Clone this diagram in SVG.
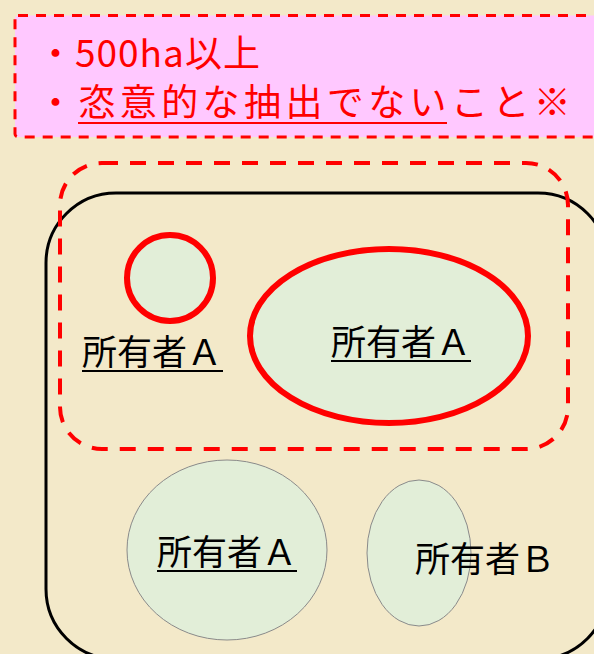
<svg xmlns="http://www.w3.org/2000/svg" width="594" height="654" viewBox="0 0 594 654">
<style>
.jp{font-family:"Noto Sans CJK JP","Noto Sans",sans-serif}
.red{fill:#ff0000}
.lbl{font-size:35px;fill:#000}
.redring{fill:#e2eed8;stroke:#ff0000;stroke-width:6}
.plain{fill:#e2eed8;stroke:#8a8a8a;stroke-width:1}
.ul{stroke:#000;stroke-width:2}
</style>
<rect x="0" y="0" width="594" height="654" fill="#f3e9c9"/>
<g id="criteria">
<rect x="15" y="15.5" width="600" height="121.5" rx="3" fill="#ffc8ff" stroke="#ff0000" stroke-width="3" stroke-dasharray="10,8"/>
<text class="jp red" x="37" y="67" font-size="37" letter-spacing="1">・500ha以上</text>
<text class="jp red" x="37" y="116" font-size="37" letter-spacing="4.4">・恣意的な抽出でないこと※</text>
<line x1="78" y1="123" x2="447" y2="123" stroke="#ff0000" stroke-width="2"/>
</g>
<g id="area">
<rect x="46" y="193" width="562" height="466" rx="70" fill="none" stroke="#000" stroke-width="3"/>
</g>
<g id="selection">
<rect x="60" y="163" width="508" height="286" rx="42" fill="none" stroke="#ff0000" stroke-width="4" stroke-dasharray="16,12"/>
</g>
<g id="plot-a-small">
<circle cx="170" cy="278" r="43" class="redring"/>
<text class="jp lbl" x="82" y="365">所有者Ａ</text>
<line class="ul" x1="82" y1="371" x2="223" y2="371"/>
</g>
<g id="plot-a-large">
<ellipse cx="389" cy="336" rx="139" ry="87" class="redring"/>
<text class="jp lbl" x="331" y="355">所有者Ａ</text>
<line class="ul" x1="331" y1="361" x2="471" y2="361"/>
</g>
<g id="plot-a-bottom">
<ellipse cx="227" cy="550" rx="100" ry="90" class="plain"/>
<text class="jp lbl" x="157" y="565">所有者Ａ</text>
<line class="ul" x1="157" y1="571" x2="297" y2="571"/>
</g>
<g id="plot-b">
<ellipse cx="419" cy="553" rx="52" ry="73" class="plain"/>
<text class="jp lbl" x="415" y="572">所有者Ｂ</text>
</g>
</svg>
